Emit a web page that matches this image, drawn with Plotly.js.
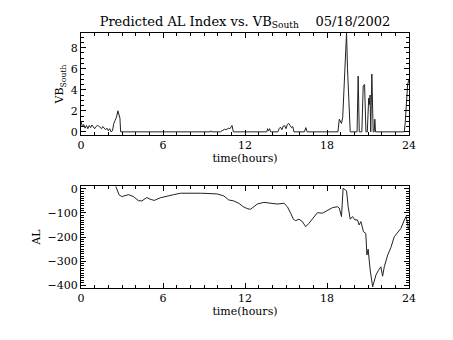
<!DOCTYPE html>
<html>
<head>
<meta charset="utf-8">
<script src="https://cdn.plot.ly/plotly-3.0.1.min.js"></script>
<style>html,body{margin:0;padding:0;background:#fff;}#chart{width:453px;height:340px;}</style>
</head>
<body>
<div id="chart"></div>
<script>
// VB_South (top panel)
var vbTime = [0, 0.1, 0.2, 0.3, 0.4, 0.5, 0.6, 0.7, 0.8, 0.9, 1.0, 1.1, 1.2, 1.3, 1.4, 1.5, 1.6, 1.7, 1.8, 1.9, 2.0, 2.1, 2.2, 2.3, 2.4, 2.5, 2.6, 2.7, 2.8, 2.85, 2.9,
  9.45, 9.5, 9.55, 10.2, 10.3, 10.4, 10.5, 10.6, 10.7, 10.8, 10.9, 11.0, 11.05, 11.15,
  13.6, 13.65, 13.72, 13.8, 13.87, 13.95, 14.4, 14.5, 14.6, 14.7, 14.8, 14.9, 15.0, 15.1, 15.2, 15.3, 15.4, 15.5, 15.58,
  16.35, 16.45, 16.55, 18.8, 18.9, 19.0, 19.06, 19.15, 19.25, 19.35, 19.43, 19.5, 19.6, 19.7,
  20.2, 20.28, 20.36, 20.55, 20.65, 20.75, 20.85, 20.95, 21.05, 21.1, 21.15, 21.2, 21.28, 21.38, 21.45, 21.5, 21.55,
  23.65, 23.72, 23.8, 23.9, 24.0];
var vbValue = [1.0, 0.5, 0.7, 0.35, 0.6, 0.3, 0.6, 0.4, 0.65, 0.45, 0.3, 0.5, 0.6, 0.55, 0.45, 0.3, 0.5, 0.35, 0.2, 0.35, 0.1, 0.3, 0.0, 0.1, 0.8, 1.1, 1.4, 2.0, 1.5, 1.3, 0,
  0, 0.1, 0, 0, 0.1, 0.15, 0.25, 0.2, 0.3, 0.35, 0.3, 0.5, 0.6, 0,
  0, 0.3, 0.1, 0.3, 0, 0, 0, 0.3, 0.45, 0.2, 0.55, 0.6, 0.3, 0.7, 0.8, 0.6, 0.4, 0.5, 0,
  0, 0.4, 0, 0, 1.2, 1.0, 0.8, 1.4, 4.0, 7.5, 9.4, 6.0, 2.0, 0,
  0, 5.3, 0, 0, 4.4, 4.5, 0, 0, 3.2, 2.6, 3.5, 0, 5.5, 0, 0, 1.2, 0,
  0, 0.8, 3.0, 4.5, 5.0];

// AL index (bottom panel)
var alTime = [2.55, 2.79, 2.98, 3.16, 3.47, 3.84, 4.2, 4.45, 4.82, 5.06, 5.36, 5.8, 6.29, 6.78, 7.27, 7.76, 8.24, 8.73, 9.22, 9.96,
  10.44, 10.81, 11.18, 11.55, 11.87, 12.16, 12.4, 12.65, 12.9, 13.38, 13.87, 14.36, 14.85, 15.1, 15.34, 15.54, 15.71, 15.95, 16.2, 16.44,
  16.68, 17.05, 17.3, 17.67, 18.03, 18.4, 18.77, 18.9, 19.06, 19.18, 19.33, 19.43, 19.55, 19.7, 19.87, 20.04, 20.23, 20.35, 20.48, 20.67,
  20.84, 20.92, 21.01, 21.16, 21.34, 21.45, 21.58, 21.77, 21.94, 22.07, 22.19, 22.44, 22.68, 22.92, 23.17, 23.41, 23.66, 23.78, 23.9, 23.96];
var alValue = [10, -25, -32, -29, -24, -32, -49, -50, -36, -43, -48, -37, -29, -24, -18, -18, -15, -18, -19, -21,
  -29, -46, -50, -60, -74, -82, -85, -74, -63, -56, -60, -63, -60, -74, -101, -126, -132, -126, -136, -157,
  -143, -115, -99, -101, -88, -78, -74, -80, -115, 3, -4, -8, -74, -126, -115, -129, -129, -150, -136, -178,
  -185, -275, -251, -338, -407, -379, -358, -338, -324, -363, -324, -275, -243, -199, -182, -164, -129, -115, -143, -168];

var xTicks = [0, 6, 12, 18, 24];
var vbTicks = [0, 2, 4, 6, 8];
var alTicks = [0, -100, -200, -300, -400];

var FONT = 'DejaVu Serif, serif';
var lineStyle = {color: '#222', width: 1};

function xAxis(anchor) {
  return {
    anchor: anchor, range: [0, 24], tickvals: xTicks, ticktext: xTicks.map(String),
    ticks: 'inside', ticklen: 5, tickcolor: '#000', tickwidth: 1,
    minor: {dtick: 1, ticks: 'inside', ticklen: 3, tickcolor: '#000'},
    showline: true, linecolor: '#000', linewidth: 1, mirror: 'allticks',
    showgrid: false, zeroline: false,
    tickfont: {family: FONT, size: 11, color: '#000'},
    title: {text: 'time(hours)', font: {family: FONT, size: 11, color: '#000'}, standoff: 2}
  };
}

var data = [
  {x: vbTime, y: vbValue, xaxis: 'x', yaxis: 'y', type: 'scatter', mode: 'lines', line: lineStyle, hoverinfo: 'skip'},
  {x: alTime, y: alValue, xaxis: 'x2', yaxis: 'y2', type: 'scatter', mode: 'lines', line: lineStyle, hoverinfo: 'skip'}
];

var layout = {
  width: 453, height: 340,
  margin: {l: 81, r: 44, t: 33, b: 52},
  paper_bgcolor: '#fff', plot_bgcolor: '#fff',
  showlegend: false,
  title: {
    text: 'Predicted AL Index vs. VB<sub>South</sub>&nbsp;&nbsp;&nbsp;&nbsp;05/18/2002',
    font: {family: FONT, size: 13, color: '#000'},
    x: 0.5, xref: 'paper', y: 1 - 21 / 340, yref: 'container', yanchor: 'middle'
  },
  xaxis: Object.assign(xAxis('y'), {domain: [0, 1]}),
  xaxis2: Object.assign(xAxis('y2'), {domain: [0, 1]}),
  yaxis: {
    domain: [0.6, 1], anchor: 'x', range: [-0.3, 9.4], tickvals: vbTicks,
    ticks: 'inside', ticklen: 5, tickcolor: '#000',
    minor: {dtick: 0.5, ticks: 'inside', ticklen: 3, tickcolor: '#000'},
    showline: true, linecolor: '#000', mirror: 'allticks', showgrid: false, zeroline: false,
    tickfont: {family: FONT, size: 11, color: '#000'},
    title: {text: 'VB<sub>South</sub>', font: {family: FONT, size: 11, color: '#000'}, standoff: 4}
  },
  yaxis2: {
    domain: [0, 0.4], anchor: 'x2', range: [-412, 12], tickvals: alTicks,
    ticktext: alTicks.map(function (v) { return v < 0 ? '\u2212' + Math.abs(v) : String(v); }),
    ticks: 'inside', ticklen: 5, tickcolor: '#000',
    minor: {dtick: 10, ticks: 'inside', ticklen: 3, tickcolor: '#000'},
    showline: true, linecolor: '#000', mirror: 'allticks', showgrid: false, zeroline: false,
    tickfont: {family: FONT, size: 11, color: '#000'},
    title: {text: 'AL', font: {family: FONT, size: 11, color: '#000'}, standoff: 4}
  }
};

Plotly.newPlot('chart', data, layout, {staticPlot: true, displayModeBar: false});
</script>
</body>
</html>
